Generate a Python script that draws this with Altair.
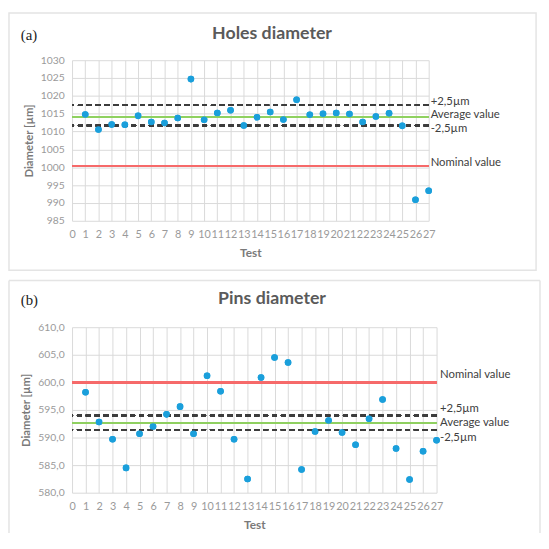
import altair as alt
import pandas as pd

tests = list(range(1, 28))
holes = [1014.8, 1010.6, 1012.0, 1011.9, 1014.4, 1012.7, 1012.4, 1013.8, 1024.7,
         1013.3, 1015.2, 1016.0, 1011.7, 1014.0, 1015.5, 1013.4, 1018.9, 1014.7,
         1015.0, 1015.2, 1014.9, 1012.7, 1014.2, 1015.1, 1011.6, 990.9, 993.4]
pins = [598.2, 592.8, 589.7, 584.5, 590.7, 592.0, 594.2, 595.6, 590.7, 601.2,
        598.4, 589.7, 582.5, 600.9, 604.5, 603.6, 584.2, 591.1, 593.1, 590.9,
        588.7, 593.4, 596.9, 588.0, 582.4, 587.5, 589.5]

holes_lines = {"nominal": 1000.3, "average": 1014.1, "upper": 1017.4, "lower": 1011.7}
pins_lines = {"nominal": 600.0, "average": 592.7, "upper": 594.0, "lower": 591.4}

x_ticks = list(range(0, 28))
holes_ticks = list(range(985, 1031, 5))
pins_ticks = list(range(580, 611, 5))

FONT = "Lato"
GRID = "#d9d9d9"
LABEL = "#9a9a9a"
TITLE = "#7a7a7a"
FRAME = "#e4e4e4"


def panel(values, lines, ticks, dom, w, h, title, tag, label_expr, label_dy,
          label_size, label_dx, frame, title_dx, title_dy):
    df = pd.DataFrame({"test": tests, "d": values})
    xscale = alt.Scale(domain=[0, 27], nice=False)
    yscale = alt.Scale(domain=dom, nice=False, zero=False)
    xax = alt.Axis(values=x_ticks, title="Test", grid=True, gridColor=GRID,
                   domain=False, ticks=False, labelColor=LABEL, labelFont=FONT,
                   labelFontSize=11, labelPadding=8, titleFont=FONT,
                   titleFontSize=12, titleColor=TITLE, titleFontWeight="bold",
                   titlePadding=8, labelFlush=False, labelOverlap=False)
    yax = alt.Axis(values=ticks, title="Diameter [µm]", grid=True, gridColor=GRID,
                   domain=False, ticks=False, labelColor=LABEL, labelFont=FONT,
                   labelFontSize=10.5, labelPadding=8, labelExpr=label_expr,
                   labelOverlap=False, titleFont=FONT, titleFontSize=11.5,
                   titleColor=TITLE, titleFontWeight="bold", titlePadding=6)
    xenc = alt.X("test:Q", scale=xscale, axis=xax)
    yenc = alt.Y("d:Q", scale=yscale, axis=yax)

    def rule(val, color, width, dash=None):
        kw = dict(color=color, strokeWidth=width)
        if dash:
            kw["strokeDash"] = dash
        return alt.Chart(df).mark_rule(**kw).encode(
            y=alt.Y(datum=val, type="quantitative", scale=yscale, axis=yax))

    rules = [
        rule(lines["nominal"], "#f66a6a", 1.8),
        rule(lines["average"], "#8fd061", 1.4),
        rule(lines["upper"], "#3d3d3d", 1.4, [5, 4]),
        rule(lines["lower"], "#3d3d3d", 1.4, [5, 4]),
    ]
    pts = alt.Chart(df).mark_circle(size=44, color="#1a9fdb", opacity=1).encode(x=xenc, y=yenc)
    names = {"upper": "+2,5µm", "average": "Average value", "lower": "-2,5µm",
             "nominal": "Nominal value"}
    labels = []
    for k, txt in names.items():
        labels.append(
            alt.Chart(pd.DataFrame({"t": [txt]})).mark_text(
                align="left", baseline="middle", dx=label_dx, dy=label_dy[k],
                font=FONT, fontSize=label_size, color="#404040"
            ).encode(x=alt.X(datum=27, type="quantitative", scale=xscale, axis=xax),
                     y=alt.Y(datum=lines[k], type="quantitative", scale=yscale, axis=yax),
                     text="t:N")
        )
    ttl = alt.Chart(pd.DataFrame({"t": [title]})).mark_text(
        align="center", baseline="alphabetic", font=FONT, fontSize=18,
        fontWeight="bold", color="#5a5a5a"
    ).encode(x=alt.value(w / 2 + title_dx), y=alt.value(title_dy), text="t:N")
    tg = alt.Chart(pd.DataFrame({"t": [tag]})).mark_text(
        align="left", baseline="alphabetic", font="Liberation Serif", fontSize=15,
        color="#222222"
    ).encode(x=alt.value(-52), y=alt.value(title_dy + 1), text="t:N")
    layers = [pts] + rules + [pts] + labels + [ttl, tg] + frame
    return alt.layer(*layers).properties(width=w, height=h)


def frame_rect(x1, y1, x2, y2):
    return [alt.Chart(pd.DataFrame({"a": [0]})).mark_rect(
        fillOpacity=0, stroke=FRAME, strokeWidth=1.5
    ).encode(x=alt.value(x1), x2=alt.value(x2), y=alt.value(y1), y2=alt.value(y2))]


def frame_open(x1, y1, x2, y2):
    one = pd.DataFrame({"a": [0]})
    r = lambda **e: alt.Chart(one).mark_rule(color=FRAME, strokeWidth=1.5).encode(**e)
    return [
        r(x=alt.value(x1), x2=alt.value(x2), y=alt.value(y1)),
        r(x=alt.value(x1), y=alt.value(y1), y2=alt.value(y2)),
        r(x=alt.value(x2), y=alt.value(y1), y2=alt.value(y2)),
    ]


top = panel(holes, holes_lines, holes_ticks, [985, 1030], 362, 163,
            "Holes diameter", "(a)", "format(datum.value, 'd')",
            {"upper": -3.6, "average": -1.7, "lower": 4, "nominal": -2.7},
            11.5, 2, frame_rect(-64, -48, 471, 213.3), 22, -21.7)

bottom = panel(pins, pins_lines, pins_ticks, [580, 610], 370, 168,
               "Pins diameter", "(b)", "replace(format(datum.value, '.1f'), '.', ',')",
               {"upper": -6.5, "average": 0, "lower": 8, "nominal": -7.7},
               11.5, 3.5, frame_open(-64, -47.5, 475, 209), 18, -23.4)

chart = alt.vconcat(top, bottom, spacing=7).configure_view(stroke=None).properties(
    padding=0, background="white")

chart.save("out.html", embed_options={"renderer": "svg", "actions": False})
